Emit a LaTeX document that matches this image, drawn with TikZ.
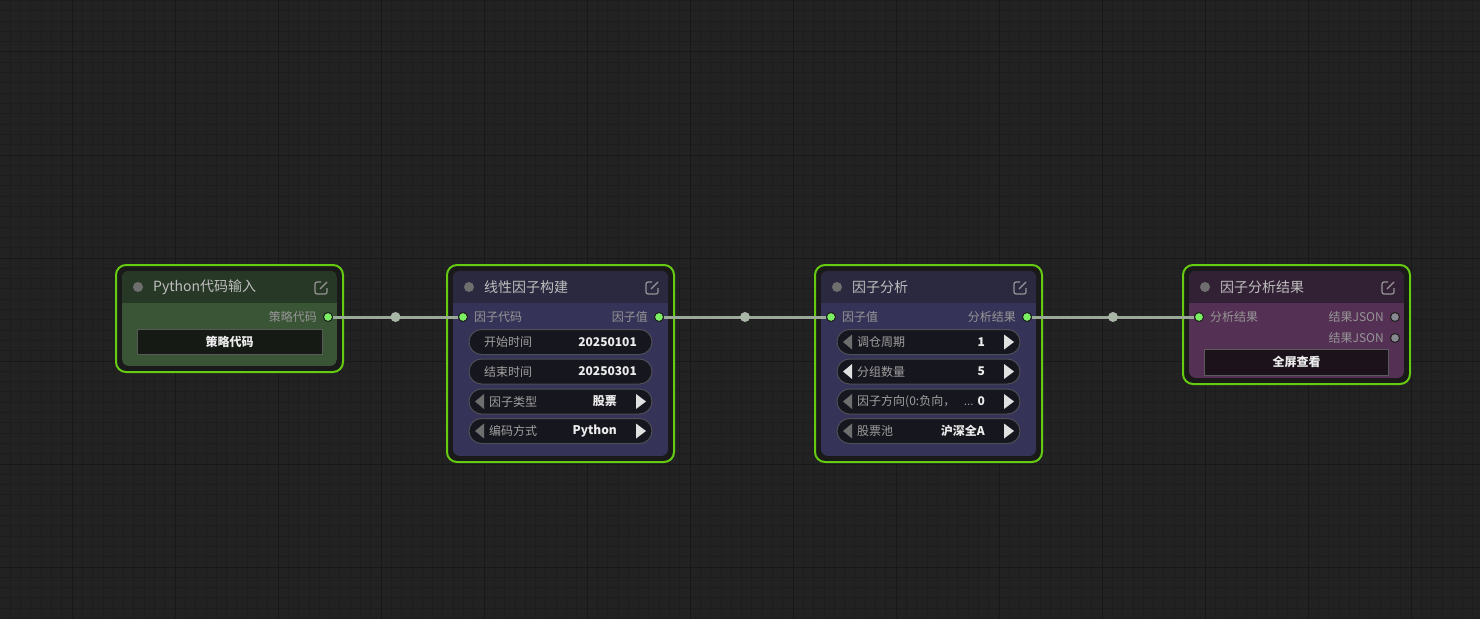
\documentclass[tikz,border=0pt]{standalone}
\usepackage{fontspec}
\setmainfont{Noto Sans CJK SC}
\newfontfamily\latinfont{Liberation Sans}
\usepackage{xcolor}

\definecolor{canvas}{RGB}{34,34,34}
\definecolor{gridminor}{RGB}{29,29,29}
\definecolor{gridmajor}{RGB}{24,24,24}
\definecolor{selgreen}{RGB}{102,204,17}
\definecolor{framegap}{RGB}{26,26,26}
\definecolor{pytitle}{RGB}{40,56,38}
\definecolor{pybody}{RGB}{58,84,54}
\definecolor{pybtn}{RGB}{21,26,21}
\definecolor{fctitle}{RGB}{42,41,64}
\definecolor{fcbody}{RGB}{53,51,88}
\definecolor{restitle}{RGB}{50,32,52}
\definecolor{resbody}{RGB}{84,48,84}
\definecolor{resbtn}{RGB}{27,18,27}
\definecolor{pillfill}{RGB}{22,22,30}
\definecolor{pillrim}{RGB}{78,78,86}
\definecolor{btnrim}{RGB}{90,90,90}
\definecolor{dotgray}{RGB}{110,110,110}
\definecolor{icongray}{RGB}{150,150,150}
\definecolor{titletext}{RGB}{190,190,190}
\definecolor{slottext}{RGB}{150,150,150}
\definecolor{labtext}{RGB}{160,160,160}
\definecolor{valtext}{RGB}{236,236,236}
\definecolor{slotgreen}{RGB}{124,240,100}
\definecolor{slotgray}{RGB}{136,136,144}
\definecolor{slotrim}{RGB}{30,30,30}
\definecolor{arrowgray}{RGB}{110,110,110}
\definecolor{arrowwhite}{RGB}{225,225,225}
\definecolor{wirecol}{RGB}{155,170,152}
\definecolor{wiredotcol}{RGB}{168,182,166}

\tikzset{
  selframe/.style={draw=selgreen, line width=2bp, rounded corners=10bp, fill=framegap},
  icon/.style={draw=icongray, line width=1.2bp},
  ttl/.style={anchor=west, inner sep=0pt, text=titletext, font=\fontsize{14bp}{16bp}\selectfont},
  slotl/.style={anchor=west, inner sep=0pt, text=slottext, font=\fontsize{12bp}{14bp}\selectfont},
  slotr/.style={slotl, anchor=east},
  slotin/.style={circle, inner sep=0pt, minimum size=9bp, fill=slotgreen, draw=slotrim, line width=1bp},
  slotoff/.style={slotin, fill=slotgray},
  pill/.style={draw=pillrim, fill=pillfill, rounded corners=12.5bp, line width=1bp},
  wlab/.style={slotl, text=labtext},
  wval/.style={anchor=east, inner sep=0pt, text=valtext, font=\fontsize{12bp}{14bp}\selectfont\bfseries},
  btn/.style={draw=btnrim, fill=pybtn, minimum height=25bp, inner sep=0pt, text=valtext, font=\fontsize{12bp}{14bp}\selectfont\bfseries},
  wire/.style={draw=wirecol, line width=3bp},
  wiredot/.style={circle, inner sep=0pt, minimum size=10bp, fill=wiredotcol},
}

\begin{document}
\begin{tikzpicture}[x=1bp, y=-1bp]
    % Canvas
    \fill[canvas] (0,0) rectangle (1480,619);
    \useasboundingbox (0,0) rectangle (1480,619);
    \foreach \i in {0,...,144} \draw[gridminor] ({-0.3+10.3*\i},0) -- ++(0,619);
    \foreach \i in {0,...,60} \draw[gridminor] (0,{0.2+10.3*\i}) -- ++(1480,0);
    \foreach \i in {0,...,14} \draw[gridmajor] ({-31.3+103*\i},0) -- ++(0,619);
    \foreach \i in {0,...,6} \draw[gridmajor] (0,{51.7+103*\i}) -- ++(1480,0);

    % Node frames
    \foreach \x/\h/\tc/\bc in {116/107/pytitle/pybody, 447/197/fctitle/fcbody, 815/197/fctitle/fcbody, 1183/119/restitle/resbody}{
      \draw[selframe] (\x,265) rectangle ++(227,\h);
      \begin{scope}
        \clip[rounded corners=7bp] (\x+6,271) rectangle (\x+221,259+\h);
        \fill[\bc] (\x+6,271) rectangle (\x+221,259+\h);
        \fill[\tc] (\x+6,271) rectangle (\x+221,303);
      \end{scope}
      \fill[dotgray] (\x+22,287) circle (5);
      \draw[icon, rounded corners=2bp] (\x+205,282) -- (\x+199,282) -- (\x+199,294) -- (\x+211,294) -- (\x+211,288);
      \draw[icon] (\x+204,289) -- (\x+211,282);
    }

    % Titles
    \node[ttl] (a-title) at (153,287) {Python代码输入};
    \node[ttl] (b-title) at (484,287) {线性因子构建};
    \node[ttl] (c-title) at (852,287) {因子分析};
    \node[ttl] (d-title) at (1220,287) {因子分析结果};

    % Slots
    \node[slotin] (a-out) at (328,317) {};
    \node[slotr] (a-outl) at (317,317) {策略代码};
    \node[slotin] (b-in) at (463,317) {};
    \node[slotl] (b-inl) at (474,317) {因子代码};
    \node[slotin] (b-out) at (659,317) {};
    \node[slotr] (b-outl) at (648,317) {因子值};
    \node[slotin] (c-in) at (831,317) {};
    \node[slotl] (c-inl) at (842,317) {因子值};
    \node[slotin] (c-out) at (1027,317) {};
    \node[slotr] (c-outl) at (1016,317) {分析结果};
    \node[slotin] (d-in) at (1199,317) {};
    \node[slotl] (d-inl) at (1210,317) {分析结果};
    \node[slotoff] (d-out1) at (1395,317) {};
    \node[slotr] (d-outl1) at (1384,317) {结果JSON};
    \node[slotoff] (d-out2) at (1395,338) {};
    \node[slotr] (d-outl2) at (1384,338) {结果JSON};

    % Buttons
    \node[btn, minimum width=185bp] (a-btn) at (229.5,341.5) {策略代码};
    \node[btn, fill=resbtn, minimum width=184bp, minimum height=26bp] (d-btn) at (1296.5,362) {全屏查看};

    % Widgets
    \foreach \y/\lab/\val [count=\i] in {342/开始时间/20250101, 371.5/结束时间/20250301}{
      \draw[pill] (469,\y-12.5) rectangle (652,\y+12.5);
      \node[wlab] (b-lab\i) at (484,\y) {\lab};
      \node[wval] (b-val\i) at (637,\y) {\val};
    }
    \foreach \bx/\y/\lab/\val/\lc [count=\i] in {447/401.5/因子类型/股票/arrowgray, 447/431/编码方式/Python/arrowgray, 815/342/调仓周期/1/arrowgray, 815/371.5/分组数量/5/arrowwhite, 815/401.5/因子方向(0:负向，/0/arrowgray, 815/431/股票池/沪深全A/arrowgray}{
      \draw[pill] (\bx+22,\y-12.5) rectangle (\bx+205,\y+12.5);
      \fill[\lc] (\bx+28,\y) -- (\bx+37,\y-7.5) -- (\bx+37,\y+7.5) -- cycle;
      \fill[arrowwhite] (\bx+199,\y) -- (\bx+189,\y-7.5) -- (\bx+189,\y+7.5) -- cycle;
      \node[wlab] (w-lab\i) at (\bx+42,\y) {\lab};
      \node[wval] (w-val\i) at (\bx+170,\y) {\val};
    }
    \node[wlab, anchor=base east, font=\latinfont\fontsize{12bp}{14bp}\selectfont] (w-more) at (974,405.5) {...};

    % Links
    \draw[wire] (a-out) -- node[wiredot] (ab-mid) {} (b-in);
    \draw[wire] (b-out) -- node[wiredot] (bc-mid) {} (c-in);
    \draw[wire] (c-out) -- node[wiredot] (cd-mid) {} (d-in);
\end{tikzpicture}
\end{document}
